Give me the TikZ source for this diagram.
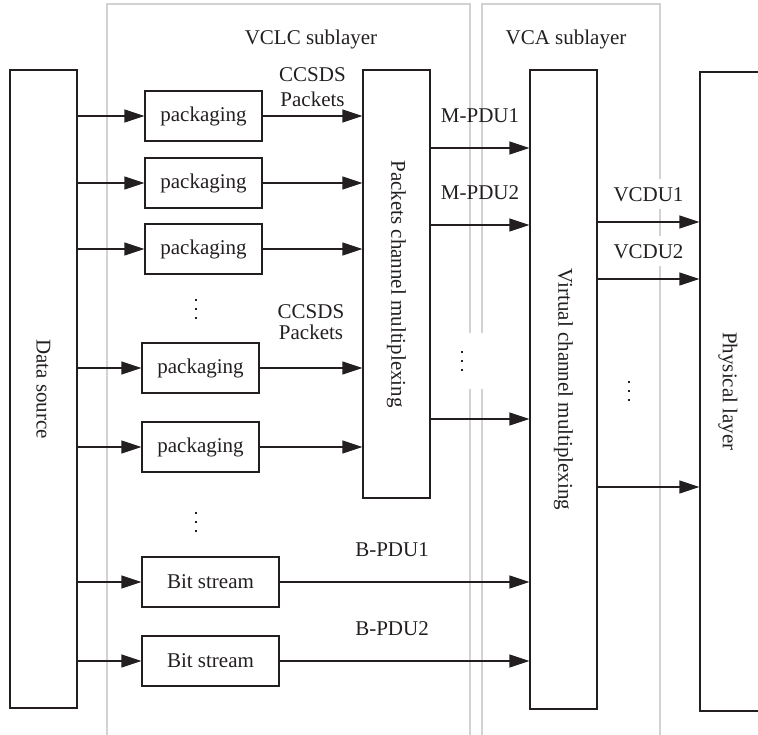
\documentclass[tikz,border=0pt]{standalone}
\usepackage{fontspec}
\setmainfont{Liberation Serif}
\usepackage{tikz}
\usetikzlibrary{positioning,arrows.meta}
\definecolor{InkDark}{HTML}{231F20}
\definecolor{LayerGray}{HTML}{D2D2D2}
\newcommand{\stackdots}{\vbox{\offinterlineskip\hbox{\rule{2.6pt}{2.6pt}}\kern6.4pt\hbox{\rule{2.6pt}{2.6pt}}\kern6.4pt\hbox{\rule{2.6pt}{2.6pt}}}}

\begin{document}
\begin{tikzpicture}[x=1pt, y=-1pt,
    lbl/.style={text=InkDark, font=\fontsize{21}{25}\selectfont},
    blk/.style={draw=InkDark, line width=1.2pt, inner sep=0pt},
    unit/.style={blk, lbl, minimum width=117pt, minimum height=50pt},
    arr/.style={draw=InkDark, line width=1.2pt, -{Triangle[length=20pt,width=13pt]}},
    layer/.style={draw=LayerGray, line width=1.3pt}]
    \useasboundingbox (0,0) rectangle (758,735);
    \clip (0,0) rectangle (758,735);

    \draw[layer] (107,735) |- (470,4) -- (470,735);
    \draw[layer] (482,735) |- (660,4) -- (660,735);
    \node[lbl, anchor=base] (vclc) at (311,45) {VCLC sublayer};
    \node[lbl, anchor=base] (vca) at (566,45) {VCA sublayer};

    \node[blk, minimum width=67pt, minimum height=638pt] (src) at (43.5,389) {};
    \node[lbl, rotate=-90] (srclbl) at (src) {Data source};

    \node[unit] (p1) at (203.5,116) {packaging};
    \node[unit] (p2) at (203.5,183) {packaging};
    \node[unit] (p3) at (203.5,249) {packaging};
    \node[text=InkDark] (pdots) at (196,309) {\stackdots};
    \node[unit] (p4) at (200.5,368) {packaging};
    \node[unit] (p5) at (200.5,447) {packaging};
    \node[text=InkDark] (bdots) at (196,522) {\stackdots};
    \node[unit, minimum width=137pt] (b1) at (210.5,582) {Bit stream};
    \node[unit, minimum width=137pt] (b2) at (210.5,661) {Bit stream};

    \node[blk, minimum width=67pt, minimum height=428pt] (pcm) at (396.5,284) {};
    \node[lbl, rotate=-90] (pcmlbl) at (pcm) {Packets channel multiplexing};
    \node[blk, minimum width=67pt, minimum height=639pt] (vcm) at (563.5,389.5) {};
    \node[lbl, rotate=-90] (vcmlbl) at (vcm) {Virtual channel multiplexing};
    \node[blk, minimum width=70pt, minimum height=639pt] (phy) at (735,391.5) {};
    \node[lbl, rotate=-90] (phylbl) at ([xshift=-7pt]phy.center) {Physical layer};

    \foreach \b in {p1,p2,p3,p4,p5,b1,b2}
      \draw[arr] (src.east |- \b.west) -- (\b.west);
    \foreach \b in {p2,p3,p5}
      \draw[arr] (\b.east) -- (\b.east -| pcm.west);
    \draw[arr] (p1.east) -- node[lbl, align=center, above=5pt] {CCSDS\\Packets} (p1.east -| pcm.west);
    \draw[arr] (p4.east) -- node[lbl, align=center, above=24pt] {CCSDS\\[-4pt]Packets} (p4.east -| pcm.west);
    \draw[arr] (b1.east) -- node[lbl, pos=0.45, above=21pt] {B-PDU1} (b1.east -| vcm.west);
    \draw[arr] (b2.east) -- node[lbl, pos=0.45, above=21pt] {B-PDU2} (b2.east -| vcm.west);

    \draw[arr] (pcm.east |- 0,148) -- node[lbl, above=21pt] {M-PDU1} (vcm.west |- 0,148);
    \draw[arr] (pcm.east |- 0,225) -- node[lbl, above=21pt] {M-PDU2} (vcm.west |- 0,225);
    \draw[arr] (pcm.east |- 0,419) -- (vcm.west |- 0,419);
    \node[text=InkDark, fill=white, minimum width=48pt, minimum height=56pt] (mdots) at (462,361) {\stackdots};

    \draw[arr] (vcm.east |- 0,222) -- node[lbl, fill=white, inner sep=8pt, above=12pt] {VCDU1} (phy.west |- 0,222);
    \draw[arr] (vcm.east |- 0,279) -- node[lbl, fill=white, inner sep=8pt, above=12pt] {VCDU2} (phy.west |- 0,279);
    \draw[arr] (vcm.east |- 0,487) -- (phy.west |- 0,487);
    \node[text=InkDark] (vdots) at (629,391) {\stackdots};
  \end{tikzpicture}
\end{document}
